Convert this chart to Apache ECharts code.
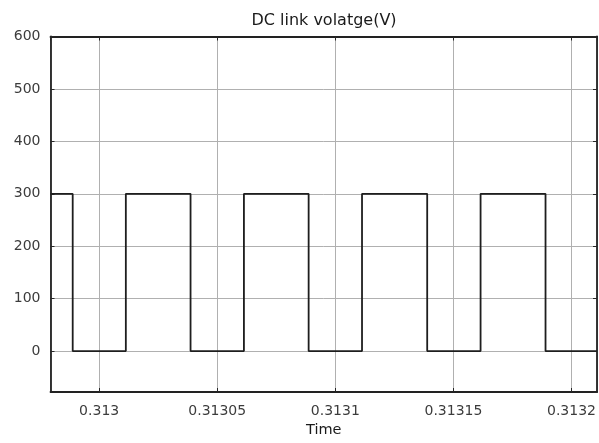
<!DOCTYPE html>
<html>
<head>
<meta charset="utf-8">
<script src="https://cdn.jsdelivr.net/npm/echarts@6/dist/echarts.min.js"></script>
<style>html,body{margin:0;padding:0;background:#fff}#c{width:599px;height:443px}</style>
</head>
<body>
<div id="c"></div>
<script>
// Switching instants (s) and the DC-link level (V) that holds from each instant on
const timeS = [0.3129794, 0.3129888, 0.3130113, 0.3130387, 0.3130613, 0.3130887,
               0.3131113, 0.3131389, 0.3131615, 0.3131890, 0.3132108];
const voltV = [300, 0, 300, 0, 300, 0, 300, 0, 300, 0, 0];
const xTickLabels = ['0.313', '0.31305', '0.3131', '0.31315', '0.3132'];
const yTickLabels = ['0', '100', '200', '300', '400', '500', '600'];

const X_MIN = 0.3129794, X_MAX = 0.3132108, X_STEP = 0.00005;
const Y_MIN = -78, Y_MAX = 600, Y_STEP = 100;

const FONT = 'DejaVu Sans';
const data = timeS.map((t, i) => [t, voltV[i]]);

function xLabel(v) {
  const k = v / X_STEP;
  if (Math.abs(k - Math.round(k)) > 1e-4) return '';
  const s = String(parseFloat(v.toFixed(6)));
  return xTickLabels.indexOf(s) >= 0 ? s : '';
}
function yLabel(v) {
  const s = String(Math.round(v));
  return (v % Y_STEP === 0 && yTickLabels.indexOf(s) >= 0) ? s : '';
}

const tickStyle = { show: true, inside: true, length: 4, lineStyle: { color: '#262626', width: 1 } };
const gridLine = { show: true, lineStyle: { color: '#b0b0b0', width: 1 } };
const frameLine = { show: true, onZero: false, lineStyle: { color: '#222222', width: 1.8 } };

const chart = echarts.init(document.getElementById('c'), null, { renderer: 'canvas' });
chart.setOption({
  animation: false,
  backgroundColor: '#ffffff',
  title: {
    text: 'DC link volatge(V)',
    left: 324, top: 13, padding: 0, textAlign: 'center',
    textStyle: { fontFamily: FONT, fontSize: 16, fontWeight: 'normal', color: '#1a1a1a' }
  },
  grid: { left: 50.5, right: 1, top: 36.5, bottom: 48.5, show: false },
  xAxis: [{
    type: 'value', min: X_MIN, max: X_MAX, minInterval: X_STEP, maxInterval: X_STEP,
    position: 'bottom',
    name: 'Time', nameLocation: 'middle', nameGap: 31,
    nameTextStyle: { fontFamily: FONT, fontSize: 14.5, color: '#1a1a1a' },
    axisLine: frameLine,
    axisTick: tickStyle,
    splitLine: gridLine,
    axisLabel: { formatter: xLabel, margin: 12, showMinLabel: false, showMaxLabel: false,
                 fontFamily: FONT, fontSize: 14, color: '#3c3c3c' }
  }, {
    type: 'value', min: X_MIN, max: X_MAX, minInterval: X_STEP, maxInterval: X_STEP,
    position: 'top',
    axisLine: frameLine, axisTick: tickStyle, splitLine: { show: false },
    axisLabel: { show: false }
  }],
  yAxis: [{
    type: 'value', min: Y_MIN, max: Y_MAX, minInterval: Y_STEP, maxInterval: Y_STEP,
    position: 'left',
    axisLine: frameLine,
    axisTick: tickStyle,
    splitLine: gridLine,
    axisLabel: { formatter: yLabel, margin: 10, showMinLabel: false,
                 fontFamily: FONT, fontSize: 14, color: '#3c3c3c' }
  }, {
    type: 'value', min: Y_MIN, max: Y_MAX, minInterval: Y_STEP, maxInterval: Y_STEP,
    position: 'right',
    axisLine: frameLine, axisTick: tickStyle, splitLine: { show: false },
    axisLabel: { show: false }
  }],
  series: [{
    type: 'line', step: 'end', data: data, xAxisIndex: 0, yAxisIndex: 0,
    showSymbol: false, symbol: 'none',
    lineStyle: { color: '#1e1e1e', width: 1.8 },
    clip: true
  }]
});
</script>
</body>
</html>
